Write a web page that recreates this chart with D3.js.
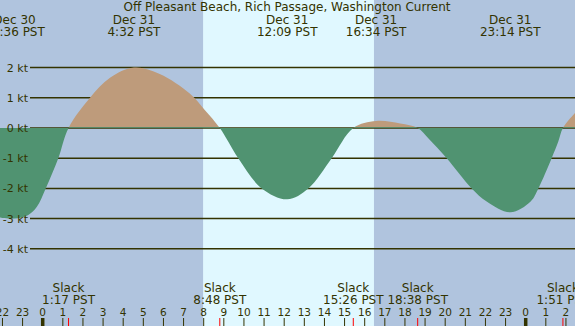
<!DOCTYPE html>
<html>
<head>
<meta charset="utf-8">
<script src="https://d3js.org/d3.v7.min.js"></script>
<style>
  body { margin: 0; padding: 0; background: #b0c4de; }
  svg { display: block; font-family: "DejaVu Sans", sans-serif; }
  text { fill: #333300; }
</style>
</head>
<body>
<svg id="chart"></svg>
<script>
var width = 575,
    height = 326

// hours relative to Dec 31 00:00 PST, current speed in knots
var curveHours = [-2.122, -1.4, -0.716, -0.298, 0.149, 0.775, 1.283, 2.35, 3.344, 4.533, 5.816, 7.307, 8.052, 8.8,
    9.719, 10.882, 12.15, 13.197, 14.36, 15.433, 16.567, 17.766, 18.633, 19.16, 20.075, 21.317, 22.062, 23.233,
    24.245, 24.63, 25.29, 25.62, 25.85, 26.45]
var curveKnots = [-2.96, -3.0, -2.88, -2.62, -2.0, -1.0, 0, 1.0, 1.66, 2.0, 1.79, 1.14, 0.6, 0,
    -1.0, -2.0, -2.36, -2.0, -1.0, 0, 0.23, 0.15, 0, -0.34, -1.0, -2.0, -2.43, -2.79,
    -2.43, -2.0, -1.0, -0.45, 0, 0.5]

// max current events (top labels)
var peakHours = [-1.40, 4.533, 12.15, 16.567, 23.233]
var peakDays = ["Dec 30", "Dec 31", "Dec 31", "Dec 31", "Dec 31"]
var peakLabels = ["22:36 PST", "4:32 PST", "12:09 PST", "16:34 PST", "23:14 PST"]

// slack events (bottom labels)
var slackHours = [1.283, 8.80, 15.433, 18.633, 25.85]
var slackLabels = ["1:17 PST", "8:48 PST", "15:26 PST", "18:38 PST", "1:51 PST"]

// daylight (sunrise, sunset)
var dayStart = [7.97]
var dayEnd = [16.46]

var knotTicks = [2, 1, 0, -1, -2, -3, -4]
var hourTicks = d3.range(-2, 27)

var title = "Off Pleasant Beach, Rich Passage, Washington Current"

var x = d3.scaleLinear().domain([-2.122, 26.45]).range([0, width])
var y = d3.scaleLinear().domain([0, 2]).range([128, 67.6])

var data = curveHours.map(function(h, i){ return {h: h, v: curveKnots[i]} })

var svg = d3.select("svg#chart")
    .attr("width", width)
    .attr("height", height)

svg.append("rect")
    .attr("width", width)
    .attr("height", height)
    .attr("fill", "#b0c4de")

svg.selectAll("rect.day")
    .data(dayStart)
    .enter()
    .append("rect")
    .attr("class", "day")
    .attr("x", function(d){ return x(d) })
    .attr("y", 0)
    .attr("width", function(d, i){ return x(dayEnd[i]) - x(d) })
    .attr("height", height)
    .attr("fill", "#e0f8ff")

// clip halves above / below slack line
var defs = svg.append("defs")
defs.append("clipPath").attr("id", "above")
    .append("rect")
    .attr("x", 0).attr("y", 0)
    .attr("width", width).attr("height", y(0) - 0.75)
defs.append("clipPath").attr("id", "below")
    .append("rect")
    .attr("x", 0).attr("y", y(0) - 0.75)
    .attr("width", width).attr("height", height)

// grid
var grid = svg.append("g")
grid.selectAll("line")
    .data(knotTicks)
    .enter()
    .append("line")
    .attr("x1", 30)
    .attr("x2", width)
    .attr("y1", function(d){ return y(d) })
    .attr("y2", function(d){ return y(d) })
    .attr("stroke", "#333300")
    .attr("stroke-width", 1.5)

var area = d3.area()
    .x(function(d){ return x(d.h) })
    .y0(y(0))
    .y1(function(d){ return y(d.v) })
    .curve(d3.curveCatmullRom.alpha(0.5))

svg.append("path")
    .datum(data)
    .attr("d", area)
    .attr("fill", "#be9b7b")
    .attr("clip-path", "url(#above)")

svg.append("path")
    .datum(data)
    .attr("d", area)
    .attr("fill", "#509371")
    .attr("clip-path", "url(#below)")

svg.append("g").selectAll("text")
    .data(knotTicks)
    .enter()
    .append("text")
    .attr("x", 28)
    .attr("y", function(d){ return y(d) + 4 })
    .attr("text-anchor", "end")
    .attr("font-size", 11)
    .text(function(d){ return d + " kt" })

// title and peak labels
svg.append("text")
    .attr("x", 287)
    .attr("y", 11)
    .attr("text-anchor", "middle")
    .attr("font-size", 12)
    .text(title)

var peaks = svg.selectAll("g.peak")
    .data(peakHours)
    .enter()
    .append("g")
    .attr("class", "peak")
    .attr("transform", function(d){ return "translate(" + x(d) + ",0)" })

peaks.append("text")
    .attr("y", 23.5)
    .attr("text-anchor", "middle")
    .attr("font-size", 12)
    .text(function(d, i){ return peakDays[i] })

peaks.append("text")
    .attr("y", 35.5)
    .attr("text-anchor", "middle")
    .attr("font-size", 12)
    .text(function(d, i){ return peakLabels[i] })

// slack labels
var slacks = svg.selectAll("g.slack")
    .data(slackHours)
    .enter()
    .append("g")
    .attr("class", "slack")
    .attr("transform", function(d){ return "translate(" + x(d) + ",0)" })

slacks.append("text")
    .attr("y", 291.5)
    .attr("text-anchor", "middle")
    .attr("font-size", 12)
    .text("Slack")

slacks.append("text")
    .attr("y", 303.5)
    .attr("text-anchor", "middle")
    .attr("font-size", 12)
    .text(function(d, i){ return slackLabels[i] })

// hour axis
var hours = svg.selectAll("g.hour")
    .data(hourTicks)
    .enter()
    .append("g")
    .attr("class", "hour")
    .attr("transform", function(d){ return "translate(" + x(d) + ",0)" })

hours.append("text")
    .attr("y", 315.5)
    .attr("text-anchor", "middle")
    .attr("font-size", 10.5)
    .text(function(d){ return (d + 24) % 24 })

hours.append("line")
    .attr("y1", 318)
    .attr("y2", height)
    .attr("stroke", "#333300")
    .attr("stroke-width", function(d){ return d % 24 == 0 ? 3.5 : 1 })

svg.selectAll("line.slack-tick")
    .data(slackHours)
    .enter()
    .append("line")
    .attr("class", "slack-tick")
    .attr("x1", function(d){ return x(d) })
    .attr("x2", function(d){ return x(d) })
    .attr("y1", 318)
    .attr("y2", height)
    .attr("stroke", "#ff0000")
    .attr("stroke-width", 1)
</script>
</body>
</html>
